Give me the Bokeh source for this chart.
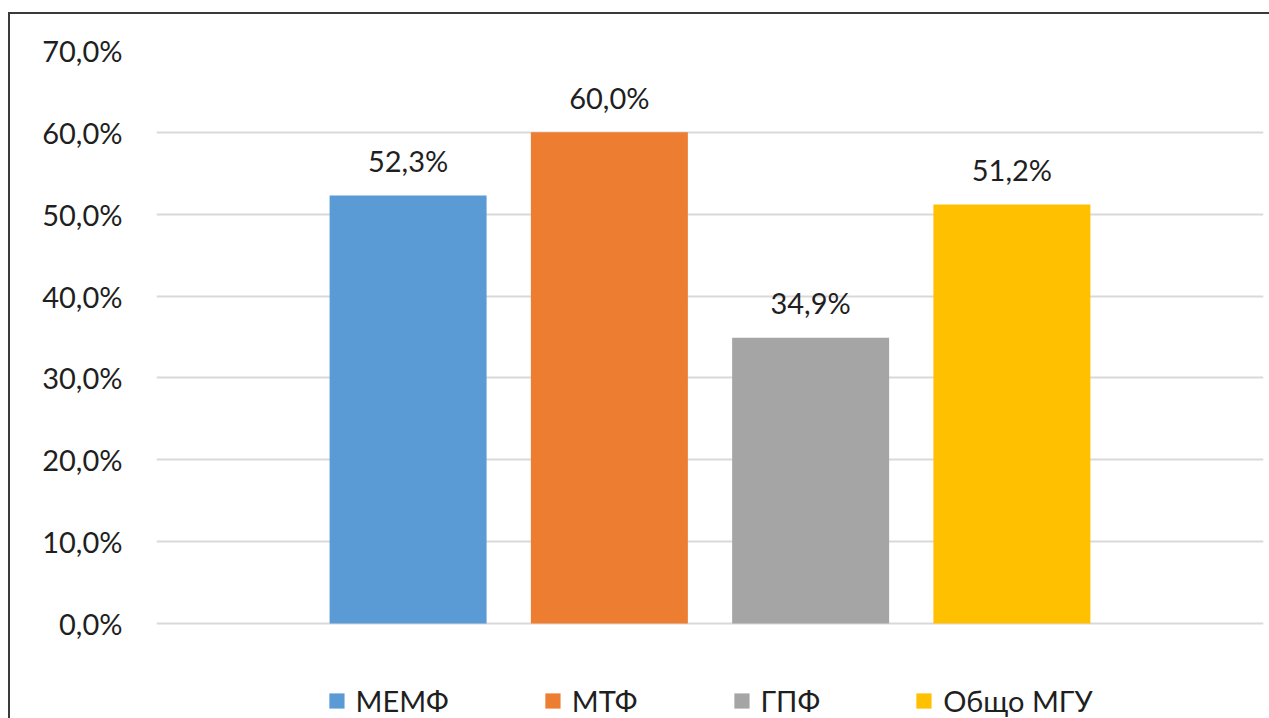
from bokeh.plotting import figure
from bokeh.models import (ColumnDataSource, FactorRange, Range1d, FixedTicker,
                          LabelSet, InlineStyleSheet)
from bokeh.core.properties import value
from bokeh.embed import file_html
from bokeh.resources import INLINE

# ---- data ----
categories = ["МЕМФ", "МТФ", "ГПФ", "Общо МГУ"]
values = [52.3, 60.0, 34.9, 51.2]
colors = ["#5B9BD5", "#ED7D31", "#A5A5A5", "#FFC000"]
y_ticks = [0, 10, 20, 30, 40, 50, 60, 70]
y_tick_labels = ["0,0%", "10,0%", "20,0%", "30,0%", "40,0%", "50,0%", "60,0%", "70,0%"]
value_labels = [f"{v:.1f}%".replace(".", ",") for v in values]

FONT = "Lato"
FS = "29px"
TXT = "#1f1f1f"

src = ColumnDataSource(dict(cat=categories, val=values, color=colors, lab=value_labels))

p = figure(width=1269, height=718,
           x_range=FactorRange(*categories, range_padding=0.75, range_padding_units="absolute"),
           y_range=Range1d(-11.61, 70),
           x_axis_location=None,
           output_backend="svg", toolbar_location=None,
           min_border_left=156, min_border_right=6, min_border_top=50, min_border_bottom=0)

p.outline_line_color = None
p.background_fill_color = "white"
p.border_fill_color = "white"

p.vbar(x="cat", top="val", width=0.78, bottom=0, color="color", line_color=None,
       source=src, legend_field="cat")

# y axis
yax = p.yaxis[0]
yax.ticker = FixedTicker(ticks=y_ticks)
yax.major_label_overrides = {t: l for t, l in zip(y_ticks, y_tick_labels)}
yax.axis_line_color = None
yax.major_tick_line_color = None
yax.minor_tick_line_color = None
yax.major_tick_out = 0
yax.major_tick_in = 0
yax.major_label_standoff = 34
yax.major_label_text_font = FONT
yax.major_label_text_font_size = FS
yax.major_label_text_color = TXT

p.xgrid.grid_line_color = None
p.ygrid.ticker = FixedTicker(ticks=y_ticks)
p.ygrid.grid_line_color = "#d9d9d9"
p.ygrid.grid_line_width = 2

labels = LabelSet(x="cat", y="val", text="lab", source=src, y_offset=35,
                  text_align="center", text_baseline="middle",
                  text_font=value(FONT), text_font_size=value(FS), text_color=TXT)
p.add_layout(labels)

lg = p.legend[0]
lg.location = "bottom_center"
lg.orientation = "horizontal"
lg.border_line_color = None
lg.background_fill_alpha = 0
lg.label_text_font = FONT
lg.label_text_font_size = FS
lg.label_text_color = TXT
lg.glyph_width = 19
lg.glyph_height = 19
lg.label_standoff = 10
lg.spacing = 94
lg.padding = 0
lg.margin = 0

p.stylesheets = [InlineStyleSheet(css=(
    ":host{position:relative;}"
    ":host::after{content:'';position:absolute;left:8px;top:12px;right:0;bottom:0;"
    "border-top:2px solid #3a3a3a;border-left:2px solid #3a3a3a;pointer-events:none;}"
))]

open("out.html", "w").write(file_html(p, INLINE))
